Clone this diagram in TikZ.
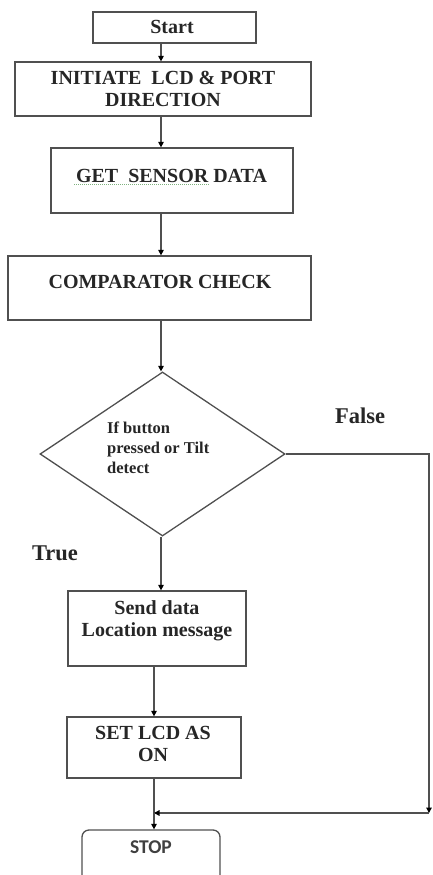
\documentclass[tikz,border=0pt]{standalone}
\usepackage{fontspec}
\setmainfont{Liberation Serif}
\newfontfamily\stopfont{Carlito}
\usetikzlibrary{shapes.geometric,arrows.meta,calc}
\definecolor{linegray}{HTML}{505050}
\definecolor{squiggle}{HTML}{7FB27F}
\begin{document}
\begin{tikzpicture}[x=1pt,y=-1pt,
  box/.style={draw=linegray, line width=1.3pt, rectangle, inner sep=0pt},
  txt/.style={font=\fontsize{20}{22}\selectfont\bfseries, align=center, inner sep=0pt, text=black!85},
  small/.style={font=\fontsize{16.5}{20}\selectfont\bfseries, align=left, inner sep=0pt, text=black!85},
  lbl/.style={font=\fontsize{22.5}{24}\selectfont\bfseries, inner sep=0pt, text=black!85},
  conn/.style={draw=linegray, line width=1.3pt},
  flow/.style={conn, -{Triangle[length=5.5pt,width=5.5pt,fill=black,color=black]}}]
\useasboundingbox (0,0) rectangle (433,875);
\fill[white] (0,0) rectangle (433,875);
\coordinate (ax) at (161,0);
\coordinate (bx) at (154,0);
\coordinate (rx) at (429,0);
% boxes
\node[box, minimum width=163pt, minimum height=31pt] (start) at (174.5,27.5) {};
\node[txt] (tstart) at (172,27) {Start};
\node[box, minimum width=296pt, minimum height=54pt] (init) at (163,89) {};
\node[txt] (tinit) at (163,89) {INITIATE\ \ LCD \& PORT\\DIRECTION};
\node[box, minimum width=242pt, minimum height=65pt] (get) at (172,180.5) {};
\node[txt] (tget) at (171.5,176) {GET\ \ SENSOR DATA};
\draw[squiggle, line width=1pt, densely dotted] (74,184) -- (210,184);
\node[box, minimum width=303pt, minimum height=64pt] (comp) at (159.5,288) {};
\node[txt] (tcomp) at (160,282) {COMPARATOR CHECK};
\node[draw=linegray, line width=1.3pt, diamond, inner sep=0pt, minimum width=245pt, minimum height=164pt] (dia) at (162.5,454) {};
\node[small, anchor=west] (tdia) at (107,448) {If button\\pressed or Tilt\\detect};
\node[box, minimum width=178pt, minimum height=75pt] (send) at (157,628.5) {};
\node[txt] (tsend) at (157,621) {Send data\\Location message};
\node[box, minimum width=174pt, minimum height=61pt] (set) at (154,747.5) {};
\node[txt] (tset) at (153,743.5) {SET LCD AS\\ON};
\node[draw=linegray, line width=1.3pt, rectangle, rounded corners=7pt, minimum width=138pt, minimum height=70pt, inner sep=0pt] (stop) at (151,865) {};
\node[font=\stopfont\bfseries\fontsize{19.5}{21}\selectfont, inner sep=0pt, text=black!75] (tstop) at (151,847) {STOP};
% labels
\node[lbl] (lfalse) at (360,416) {False};
\node[lbl] (ltrue) at (55,553) {True};
% junction points
\coordinate (jr) at (429,813);
\coordinate (jc) at (154,813);
% connectors
\draw[flow] (start.south -| ax) -- (init.north -| ax);
\draw[flow] (init.south -| ax) -- (get.north -| ax);
\draw[flow] (get.south -| ax) -- (comp.north -| ax);
\draw[flow] (comp.south -| ax) -- (dia.north -| ax);
\draw[flow] (dia.south -| ax) -- (send.north -| ax);
\draw[flow] (send.south -| bx) -- (set.north -| bx);
\draw[conn] (set.south -| bx) -- (jc);
\draw[flow] (dia.east) -- (dia.east -| rx) -- (jr);
\draw[flow] (jr) -- (jc);
\draw[flow] (jc) -- (stop.north -| bx);
\end{tikzpicture}
\end{document}
